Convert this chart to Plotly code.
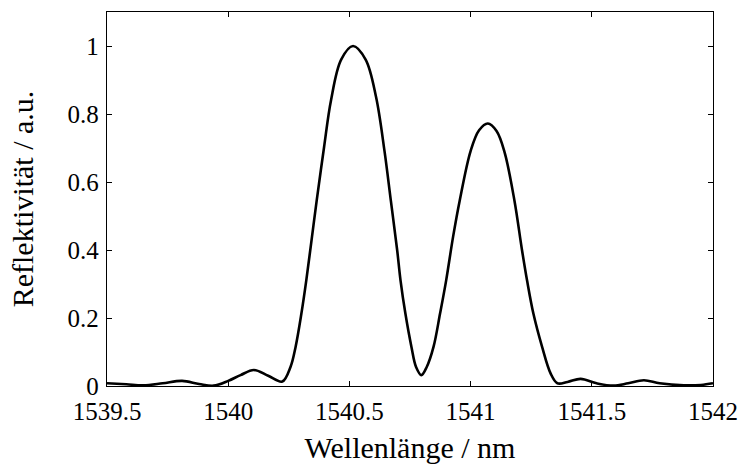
import plotly.graph_objects as go

wavelength_nm = [
    1539.50, 1539.58, 1539.65, 1539.73, 1539.81, 1539.88, 1539.94, 1540.00,
    1540.051, 1540.106, 1540.165, 1540.223, 1540.257, 1540.278, 1540.302,
    1540.322, 1540.344, 1540.365, 1540.395, 1540.424, 1540.466, 1540.515,
    1540.567, 1540.610, 1540.645, 1540.671, 1540.697, 1540.711, 1540.731,
    1540.756, 1540.775, 1540.797, 1540.819, 1540.847, 1540.874, 1540.899,
    1540.928, 1540.955, 1541.000, 1541.035, 1541.071, 1541.107, 1541.140,
    1541.181, 1541.212, 1541.233, 1541.259, 1541.295, 1541.330, 1541.358,
    1541.400, 1541.454, 1541.520, 1541.590, 1541.650, 1541.715, 1541.780,
    1541.880, 1541.950, 1542.000,
]
reflectivity = [
    0.008, 0.005, 0.002, 0.008, 0.015, 0.006, 0.001, 0.015,
    0.032, 0.047, 0.030, 0.013, 0.056, 0.115, 0.213,
    0.310, 0.430, 0.545, 0.700, 0.840, 0.960, 1.000,
    0.960, 0.850, 0.690, 0.545, 0.400, 0.310, 0.213,
    0.115, 0.056, 0.032, 0.056, 0.115, 0.213, 0.310,
    0.440, 0.545, 0.691, 0.752, 0.772, 0.750, 0.688,
    0.545, 0.400, 0.310, 0.213, 0.115, 0.037, 0.008,
    0.012, 0.021, 0.008, 0.001, 0.008, 0.017, 0.008,
    0.002, 0.003, 0.008,
]

x_tick_vals = [1539.5, 1540, 1540.5, 1541, 1541.5, 1542]
x_tick_text = ["1539.5", "1540", "1540.5", "1541", "1541.5", "1542"]
y_tick_vals = [0, 0.2, 0.4, 0.6, 0.8, 1]
y_tick_text = ["0", "0.2", "0.4", "0.6", "0.8", "1"]

FONT = "Liberation Serif"


def serif(label):
    return f"<span style='font-family:Liberation Serif'>{label}</span>"


fig = go.Figure()
fig.add_trace(go.Scatter(
    x=wavelength_nm, y=reflectivity, mode="lines",
    line=dict(color="black", width=2.6, shape="spline", smoothing=1.0),
    showlegend=False, hoverinfo="skip",
))

axis_common = dict(
    showline=True, linecolor="black", linewidth=1.3, mirror="ticks",
    ticks="inside", ticklen=5, tickwidth=1, tickcolor="black",
    showgrid=False, zeroline=False, automargin=False,
    tickfont=dict(family=FONT, size=25, color="black"),
)

fig.update_layout(
    width=741, height=467, autosize=False,
    font=dict(family=FONT, size=25, color="black"),
    margin=dict(l=107, r=28, t=12, b=81),
    paper_bgcolor="white", plot_bgcolor="white",
    xaxis=dict(
        range=[1539.5, 1542], tickmode="array",
        tickvals=x_tick_vals, ticktext=[serif(t) for t in x_tick_text],
        title=dict(text="Wellenlänge / nm", font=dict(family=FONT, size=30, color="black"), standoff=12),
        ticklabelstandoff=3,
        **axis_common,
    ),
    yaxis=dict(
        range=[0, 1.1], tickmode="array",
        tickvals=y_tick_vals, ticktext=[serif(t) for t in y_tick_text],
        title=dict(text="Reflektivität / a.u.", font=dict(family=FONT, size=30, color="black"), standoff=25),
        ticklabelstandoff=2,
        **axis_common,
    ),
)

fig.write_html("out.html", config={"displayModeBar": False},
               post_script="document.body.style.margin='0px';")
